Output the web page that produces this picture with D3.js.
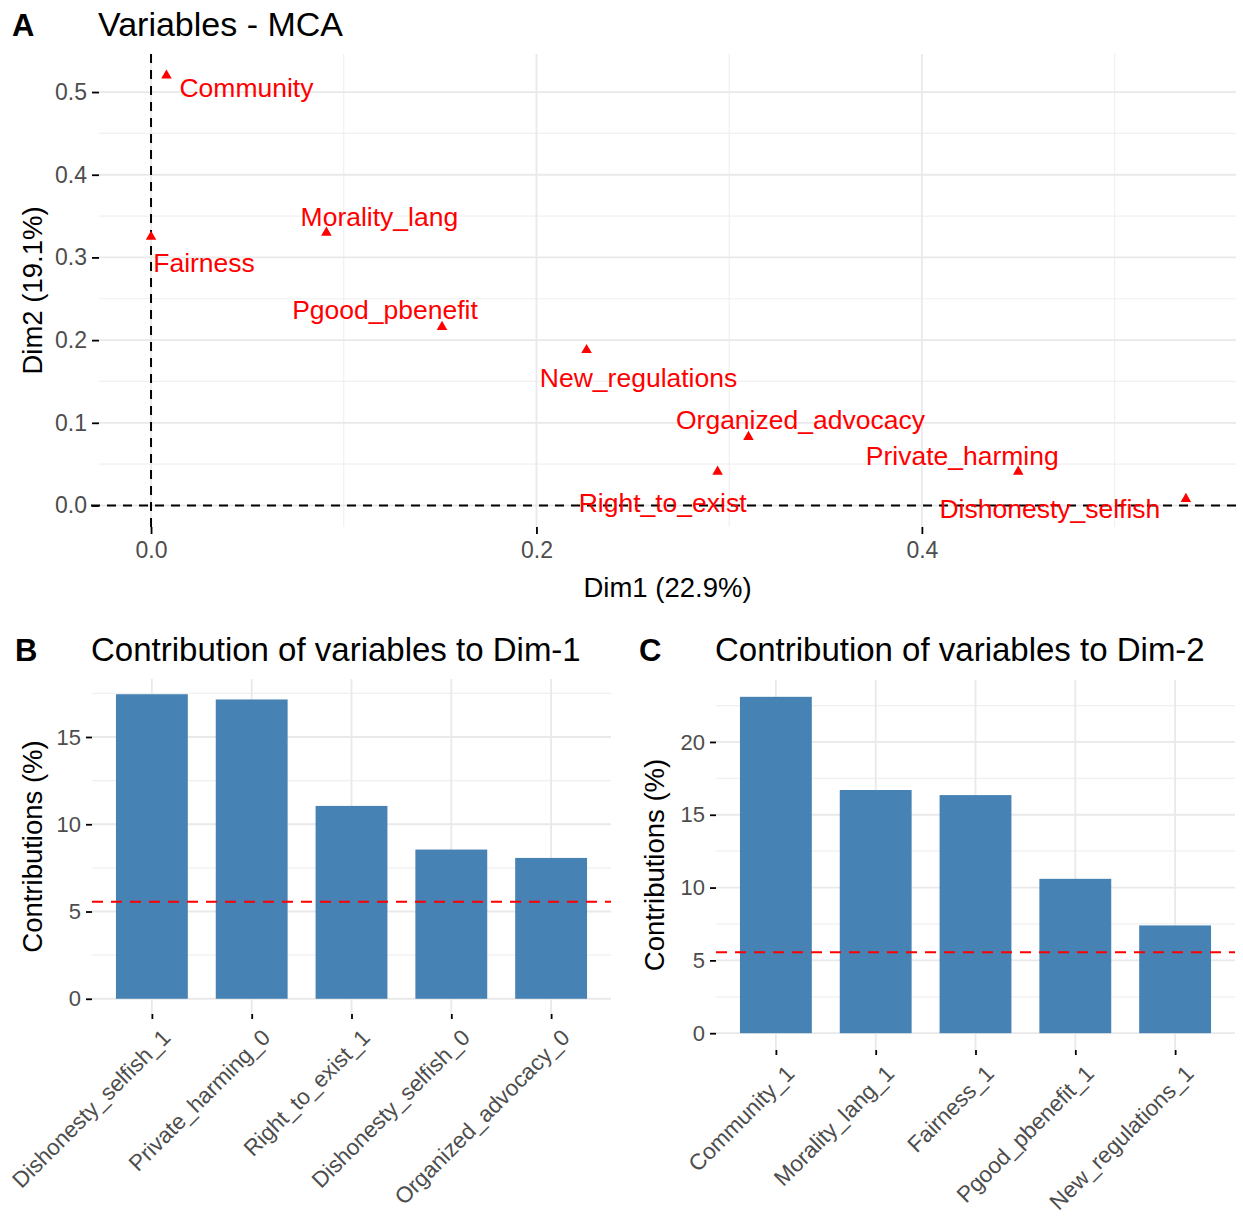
<!DOCTYPE html>
<html>
<head>
<meta charset="utf-8">
<script src="https://cdn.jsdelivr.net/npm/d3@7"></script>
<style>
body { margin: 0; background: #fff; }
text { font-family: "Liberation Sans", Arial, sans-serif; }
</style>
</head>
<body>
<div id="chart"></div>
<script>
// MCA coordinates of the variables (panel A)
var mcaVars = ["Community", "Morality_lang", "Fairness", "Pgood_pbenefit", "New_regulations",
               "Organized_advocacy", "Right_to_exist", "Private_harming", "Dishonesty_selfish"];
var dim1 = [0.008, 0.091, 0.000, 0.151, 0.226, 0.310, 0.294, 0.450, 0.537];
var dim2 = [0.520, 0.330, 0.325, 0.216, 0.188, 0.083, 0.041, 0.041, 0.008];
var dimXTicks = [0.0, 0.2, 0.4];
var dimYTicks = [0.0, 0.1, 0.2, 0.3, 0.4, 0.5];

// contributions (panels B and C)
var contrib1Cats = ["Dishonesty_selfish_1", "Private_harming_0", "Right_to_exist_1",
                    "Dishonesty_selfish_0", "Organized_advocacy_0"];
var contrib1Vals = [17.45, 17.15, 11.05, 8.55, 8.07];
var contrib2Cats = ["Community_1", "Morality_lang_1", "Fairness_1", "Pgood_pbenefit_1", "New_regulations_1"];
var contrib2Vals = [23.1, 16.7, 16.35, 10.6, 7.4];
var contrib1Ticks = [0, 5, 10, 15];
var contrib2Ticks = [0, 5, 10, 15, 20];
var contribRef = 5.56;

// where the repelled labels sit, in pixels from their point
var labelOffset = [[80, 12], [53, -16], [53, 26], [-57, -17], [52, 28],
                   [52, -17], [-55, 31], [-56, -16], [-136, 10]];

var W = 1243, H = 1222;
var gridMajor = "#e9e9e9", gridMinor = "#f0f0f0", tickCol = "#4d4d4d";

var svg = d3.select("#chart").append("svg")
    .attr("width", W).attr("height", H);

svg.append("rect").attr("width", W).attr("height", H).attr("fill", "#fff");

// ---------- panel A ----------
var a = {left: 99, right: 1236, top: 54, bottom: 527};
var xA = d3.scaleLinear().domain([-0.027, 0.563]).range([a.left, a.right]);
var yA = d3.scaleLinear().domain([-0.026, 0.546]).range([a.bottom, a.top]);
var gA = svg.append("g");

// minor grid
gA.selectAll(".mx").data([0.1, 0.3, 0.5]).enter().append("line")
    .attr("x1", xA).attr("x2", xA).attr("y1", a.top).attr("y2", a.bottom)
    .attr("stroke", gridMinor).attr("stroke-width", 1.2);
gA.selectAll(".my").data([0.05, 0.15, 0.25, 0.35, 0.45]).enter().append("line")
    .attr("y1", yA).attr("y2", yA).attr("x1", a.left).attr("x2", a.right)
    .attr("stroke", gridMinor).attr("stroke-width", 1.2);
// major grid
gA.selectAll(".gx").data(dimXTicks).enter().append("line")
    .attr("x1", xA).attr("x2", xA).attr("y1", a.top).attr("y2", a.bottom)
    .attr("stroke", gridMajor).attr("stroke-width", 1.8);
gA.selectAll(".gy").data(dimYTicks).enter().append("line")
    .attr("y1", yA).attr("y2", yA).attr("x1", a.left).attr("x2", a.right)
    .attr("stroke", gridMajor).attr("stroke-width", 1.8);

// reference lines at 0
gA.append("line").attr("x1", xA(0)).attr("x2", xA(0)).attr("y1", a.top).attr("y2", a.bottom)
    .attr("stroke", "#000").attr("stroke-width", 2).attr("stroke-dasharray", "9,7");
gA.append("line").attr("y1", yA(0)).attr("y2", yA(0)).attr("x1", a.left - 8).attr("x2", a.right)
    .attr("stroke", "#000").attr("stroke-width", 2).attr("stroke-dasharray", "9,7");

// axes
var axA_x = gA.append("g").attr("transform", "translate(0," + a.bottom + ")")
    .call(d3.axisBottom(xA).tickValues(dimXTicks).tickFormat(d3.format(".1f")).tickSize(7).tickPadding(8));
var axA_y = gA.append("g").attr("transform", "translate(" + a.left + ",0)")
    .call(d3.axisLeft(yA).tickValues(dimYTicks).tickFormat(d3.format(".1f")).tickSize(7).tickPadding(5));
[axA_x, axA_y].forEach(function(ax) {
    ax.select(".domain").remove();
    ax.selectAll(".tick line").attr("stroke", "#000").attr("stroke-width", 1.8);
    ax.selectAll(".tick text").attr("fill", tickCol).style("font-size", "23px")
        .style("font-family", "'Liberation Sans', Arial, sans-serif");
});

// points
gA.selectAll(".pt").data(mcaVars).enter().append("path")
    .attr("d", d3.symbol().type(d3.symbolTriangle).size(48))
    .attr("transform", function(d, i) { return "translate(" + xA(dim1[i]) + "," + yA(dim2[i]) + ")"; })
    .attr("fill", "#ff0000");
gA.selectAll(".lab").data(mcaVars).enter().append("text")
    .attr("x", function(d, i) { return xA(dim1[i]) + labelOffset[i][0]; })
    .attr("y", function(d, i) { return yA(dim2[i]) + labelOffset[i][1]; })
    .attr("dy", "0.35em")
    .attr("text-anchor", "middle")
    .attr("fill", "#ff0000")
    .style("font-size", "26.5px")
    .text(function(d) { return d; });

// titles
svg.append("text").attr("x", 12).attr("y", 36).style("font-size", "31px").style("font-weight", "bold").text("A");
svg.append("text").attr("x", 98).attr("y", 36).style("font-size", "34px").text("Variables - MCA");
svg.append("text").attr("x", (a.left + a.right) / 2).attr("y", 597).attr("text-anchor", "middle")
    .style("font-size", "27.5px").text("Dim1 (22.9%)");
svg.append("text").attr("transform", "translate(42," + (a.top + a.bottom) / 2 + ") rotate(-90)")
    .attr("text-anchor", "middle").style("font-size", "27.5px").text("Dim2 (19.1%)");

// ---------- bar panels ----------
function contribPanel(p) {
    var g = svg.append("g");
    var x = d3.scalePoint().domain(p.cats).range([p.left, p.right]).padding(0.6);
    var bw = x.step() * 0.72;
    var ymax = d3.max(p.vals);
    var y = d3.scaleLinear().domain([-ymax * 0.05, ymax * 1.05]).range([p.bottom, p.top]);
    var minor = d3.range(2.5, ymax * 1.05, 5);

    g.selectAll(".my").data(minor).enter().append("line")
        .attr("y1", y).attr("y2", y).attr("x1", p.left).attr("x2", p.right)
        .attr("stroke", gridMinor).attr("stroke-width", 1.2);
    g.selectAll(".gy").data(p.ticks).enter().append("line")
        .attr("y1", y).attr("y2", y).attr("x1", p.left).attr("x2", p.right)
        .attr("stroke", gridMajor).attr("stroke-width", 1.8);
    g.selectAll(".gx").data(p.cats).enter().append("line")
        .attr("x1", x).attr("x2", x).attr("y1", p.top).attr("y2", p.bottom)
        .attr("stroke", gridMajor).attr("stroke-width", 1.8);

    g.selectAll(".bar").data(p.vals).enter().append("rect")
        .attr("x", function(d, i) { return x(p.cats[i]) - bw / 2; })
        .attr("width", bw)
        .attr("y", function(d) { return y(d); })
        .attr("height", function(d) { return y(0) - y(d); })
        .attr("fill", "steelblue");

    g.append("line").attr("x1", p.left).attr("x2", p.right)
        .attr("y1", y(contribRef)).attr("y2", y(contribRef))
        .attr("stroke", "#ff0000").attr("stroke-width", 2).attr("stroke-dasharray", "11,8");

    var ay = g.append("g").attr("transform", "translate(" + p.left + ",0)")
        .call(d3.axisLeft(y).tickValues(p.ticks).tickSize(6).tickPadding(5));
    var ax = g.append("g").attr("transform", "translate(0," + p.bottom + ")")
        .call(d3.axisBottom(x).tickSize(5).tickFormat(""));
    [ax, ay].forEach(function(s) {
        s.select(".domain").remove();
        s.selectAll(".tick line").attr("stroke", "#000").attr("stroke-width", 1.8);
        s.selectAll(".tick text").attr("fill", tickCol).style("font-size", "22px")
            .style("font-family", "'Liberation Sans', Arial, sans-serif");
    });

    g.selectAll(".xl").data(p.cats).enter().append("text")
        .attr("transform", function(d) { return "translate(" + (x(d) + 8) + "," + (p.bottom + 13) + ") rotate(-45)"; })
        .attr("text-anchor", "end")
        .attr("dy", "0.75em")
        .attr("fill", tickCol)
        .style("font-size", "22.5px")
        .text(function(d) { return d; });

    svg.append("text").attr("x", p.letterX).attr("y", p.titleY).style("font-size", "31px")
        .style("font-weight", "bold").text(p.letter);
    svg.append("text").attr("x", p.left - 1).attr("y", p.titleY).style("font-size", "33px").text(p.title);
    svg.append("text").attr("transform", "translate(" + p.ytitleX + "," + (p.top + p.bottom) / 2 + ") rotate(-90)")
        .attr("text-anchor", "middle").style("font-size", "27.5px").text("Contributions (%)");
}

contribPanel({cats: contrib1Cats, vals: contrib1Vals, ticks: contrib1Ticks,
    left: 92, right: 611, top: 679, bottom: 1014,
    letter: "B", letterX: 15, titleY: 661, title: "Contribution of variables to Dim-1", ytitleX: 42});
contribPanel({cats: contrib2Cats, vals: contrib2Vals, ticks: contrib2Ticks,
    left: 716, right: 1235, top: 680, bottom: 1050,
    letter: "C", letterX: 639, titleY: 661, title: "Contribution of variables to Dim-2", ytitleX: 664});
</script>
</body>
</html>
